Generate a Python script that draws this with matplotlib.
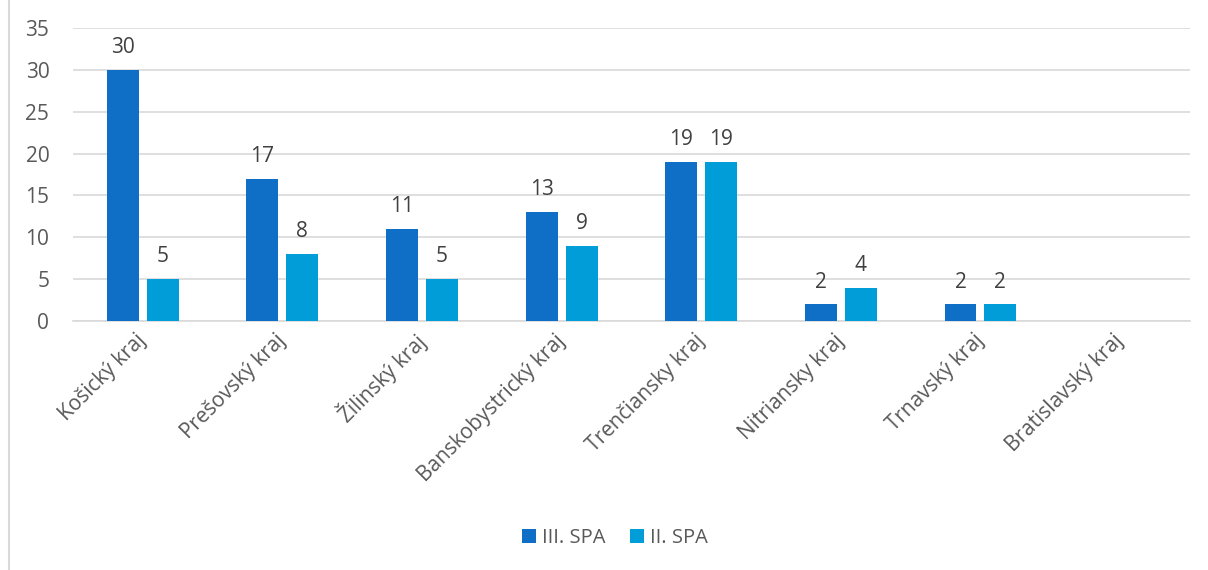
import matplotlib.pyplot as plt
import numpy as np
from matplotlib.lines import Line2D

categories = ['Košický kraj', 'Prešovský kraj', 'Žilinský kraj', 'Banskobystrický kraj',
              'Trenčiansky kraj', 'Nitriansky kraj', 'Trnavský kraj', 'Bratislavský kraj']
spa3 = [30, 17, 11, 13, 19, 2, 2, 0]
spa2 = [5, 8, 5, 9, 19, 4, 2, 0]
series_names = ['III. SPA', 'II. SPA']

plt.rcParams['font.family'] = ['Open Sans', 'DejaVu Sans']
text_color = '#595959'
dark = '#0F6FC6'
light = '#009DD9'

fig = plt.figure(figsize=(12.08, 5.7), dpi=100)
ax = fig.add_axes([0.0604, 0.4368, 0.9246, 0.5141])

x = np.arange(len(categories))
w = 0.229
gap = 0.057
off = (w + gap) / 2
bars3 = ax.bar(x - off, spa3, w, color=dark, label=series_names[0], zorder=3)
bars2 = ax.bar(x + off, spa2, w, color=light, label=series_names[1], zorder=3)

for bars, vals in ((bars3, spa3), (bars2, spa2)):
    for b, v in zip(bars, vals):
        if v == 0:
            continue
        ax.text(b.get_x() + b.get_width() / 2, v + 1.4, str(v), ha='center', va='bottom',
                fontsize=15, color='#404040')

ax.set_xlim(-0.5, len(categories) - 0.5)
ax.set_ylim(0, 35)
ax.set_yticks(range(0, 36, 5))
ax.yaxis.grid(True, color='#D9D9D9', linewidth=1.2, zorder=0)
ax.set_axisbelow(True)
for s in ['top', 'right', 'left']:
    ax.spines[s].set_visible(False)
ax.spines['bottom'].set_color('#D9D9D9')
ax.spines['bottom'].set_linewidth(1.2)
ax.tick_params(axis='both', length=0, labelsize=15, colors=text_color)
ax.tick_params(axis='y', pad=17)
ax.tick_params(axis='x', pad=12)
ax.set_xticks(x)
ax.set_xticklabels(categories, rotation=45, ha='right', va='center', rotation_mode='anchor')

leg = ax.legend(loc='center', bbox_to_anchor=(0.485, -0.74), ncol=2, frameon=False,
                fontsize=14.5, handlelength=0.7, handleheight=0.7, handletextpad=0.3,
                columnspacing=1.2)
for t in leg.get_texts():
    t.set_color(text_color)

fig.add_artist(Line2D([0.0075, 0.0075], [0, 1], transform=fig.transFigure,
                      color='#D9D9D9', linewidth=1.5))

fig.savefig('out.png', dpi=100)
